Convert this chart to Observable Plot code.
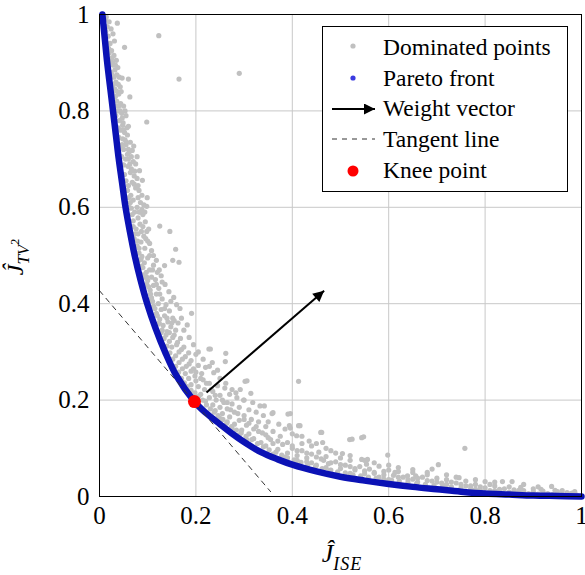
<!DOCTYPE html>
<html>
<head>
<meta charset="utf-8">
<script src="https://cdn.jsdelivr.net/npm/d3@7"></script>
<script src="https://cdn.jsdelivr.net/npm/@observablehq/plot@0.6"></script>
<style>
  html, body { margin: 0; padding: 0; background: white; overflow: hidden; }
  #wrap { position: relative; width: 585px; height: 575px; }
  #legend { position: absolute; left: 322px; top: 26px; }
</style>
</head>
<body>
<div id="wrap"></div>
<script>
// ---- data ----
const ticks = [0, 0.2, 0.4, 0.6, 0.8, 1];
const tickLabels = ["0", "0.2", "0.4", "0.6", "0.8", "1"];

const frontX = [0.006, 0.011, 0.016, 0.022, 0.028, 0.034, 0.040, 0.047, 0.054, 0.063, 0.073, 0.085, 0.099, 0.116, 0.136, 0.160, 0.197, 0.22, 0.25, 0.273, 0.30, 0.335, 0.37, 0.40, 0.45, 0.50, 0.55, 0.60, 0.65, 0.70, 0.75, 0.80, 0.85, 0.90, 0.95, 1.0];
const frontY = [1.0, 0.95, 0.9, 0.85, 0.8, 0.75, 0.7, 0.65, 0.6, 0.55, 0.5, 0.45, 0.4, 0.35, 0.3, 0.25, 0.197, 0.174, 0.150, 0.132, 0.113, 0.092, 0.077, 0.066, 0.052, 0.041, 0.033, 0.026, 0.020, 0.015, 0.010, 0.006, 0.004, 0.002, 0.001, 0.0];

const knee = [0.197, 0.197];
const tangentX = [0, 0.355];
const tangentY = [0.427, 0.01];
const weightStart = [0.222, 0.216];
const weightEnd = [0.466, 0.427];

const dominated = [
  [0.012,0.99],[0.016,0.975],[0.02,0.985],[0.024,0.97],[0.018,0.955],[0.028,0.96],[0.037,0.982],[0.031,0.945],[0.022,0.94],[0.052,0.932],[0.123,0.956],[0.014,0.995],
  [0.025,0.925],[0.03,0.915],[0.027,0.9],[0.035,0.905],[0.032,0.885],[0.038,0.89],[0.026,0.875],[0.041,0.87],[0.06,0.866],[0.047,0.868],[0.034,0.86],[0.029,0.855],[0.165,0.866],[0.29,0.878],[0.043,0.85],
  [0.032,0.845],[0.04,0.835],[0.063,0.829],[0.036,0.82],[0.044,0.815],[0.05,0.81],[0.038,0.8],[0.046,0.795],[0.055,0.79],[0.041,0.78],[0.049,0.775],[0.098,0.777],[0.06,0.768],[0.044,0.76],[0.052,0.755],[0.058,0.75],[0.035,0.81],[0.047,0.785],
  [0.048,0.742],[0.056,0.735],[0.071,0.727],[0.05,0.72],[0.062,0.715],[0.066,0.705],[0.054,0.7],[0.07,0.695],[0.075,0.69],[0.059,0.685],[0.083,0.676],[0.064,0.672],[0.072,0.665],[0.089,0.656],[0.068,0.652],[0.078,0.66],[0.047,0.73],[0.058,0.71],
  [0.06,0.645],[0.075,0.64],[0.082,0.635],[0.099,0.62],[0.065,0.625],[0.07,0.615],[0.098,0.602],[0.085,0.61],[0.078,0.6],[0.066,0.598],[0.073,0.59],[0.09,0.585],[0.08,0.578],[0.07,0.572],[0.095,0.57],[0.125,0.561],[0.084,0.565],[0.076,0.555],[0.146,0.55],[0.102,0.555],[0.064,0.61],[0.088,0.595],
  [0.08,0.545],[0.092,0.54],[0.072,0.535],[0.086,0.528],[0.1,0.53],[0.078,0.52],[0.094,0.515],[0.158,0.513],[0.108,0.51],[0.082,0.505],[0.088,0.498],[0.1,0.495],[0.135,0.479],[0.152,0.49],[0.165,0.486],[0.093,0.485],[0.112,0.48],[0.087,0.478],[0.104,0.47],[0.097,0.465],[0.12,0.465],[0.09,0.46],[0.108,0.455],[0.116,0.45],[0.1,0.448],[0.128,0.458],[0.082,0.49],
  [0.098,0.44],[0.112,0.438],[0.123,0.432],[0.105,0.428],[0.144,0.425],[0.118,0.42],[0.154,0.413],[0.108,0.412],[0.13,0.41],[0.122,0.4],[0.138,0.398],[0.112,0.395],[0.167,0.39],[0.128,0.388],[0.145,0.385],[0.191,0.38],[0.118,0.38],[0.135,0.375],[0.152,0.37],[0.125,0.368],[0.142,0.362],[0.163,0.36],[0.182,0.356],[0.132,0.355],[0.148,0.352],[0.122,0.358],[0.158,0.345],[0.105,0.405],[0.14,0.342],
  [0.13,0.345],[0.138,0.335],[0.152,0.33],[0.168,0.328],[0.145,0.322],[0.16,0.315],[0.175,0.31],[0.227,0.306],[0.23,0.306],[0.15,0.31],[0.165,0.3],[0.185,0.298],[0.262,0.297],[0.2,0.295],[0.158,0.292],[0.172,0.285],[0.19,0.282],[0.234,0.278],[0.165,0.278],[0.18,0.27],[0.205,0.272],[0.22,0.268],[0.172,0.265],[0.19,0.26],[0.237,0.257],[0.212,0.255],[0.178,0.255],[0.198,0.25],[0.261,0.28],[0.145,0.34],
  [0.185,0.245],[0.2,0.24],[0.215,0.242],[0.306,0.24],[0.413,0.239],[0.302,0.239],[0.228,0.235],[0.19,0.232],[0.205,0.228],[0.245,0.23],[0.26,0.225],[0.218,0.222],[0.235,0.218],[0.314,0.214],[0.21,0.212],[0.25,0.21],[0.27,0.212],[0.228,0.205],[0.242,0.2],[0.299,0.2],[0.285,0.205],[0.22,0.198],[0.258,0.195],[0.275,0.192],[0.342,0.188],[0.333,0.188],[0.235,0.19],[0.25,0.185],[0.265,0.182],[0.29,0.185],[0.31,0.18],
  [0.24,0.178],[0.255,0.172],[0.28,0.175],[0.36,0.174],[0.358,0.172],[0.391,0.171],[0.396,0.172],[0.3,0.168],[0.27,0.165],[0.25,0.162],[0.29,0.158],[0.315,0.16],[0.33,0.155],[0.265,0.155],[0.28,0.15],[0.305,0.148],[0.416,0.147],[0.394,0.147],[0.413,0.147],[0.396,0.142],[0.345,0.145],[0.32,0.14],[0.295,0.138],[0.275,0.142],[0.36,0.135],[0.338,0.132],[0.461,0.133],[0.459,0.133],[0.31,0.13],[0.29,0.128],[0.409,0.126],[0.375,0.125],[0.35,0.122],[0.548,0.124],[0.524,0.119],[0.519,0.118],[0.544,0.122],[0.32,0.12],
  [0.305,0.118],[0.335,0.112],[0.463,0.112],[0.36,0.11],[0.38,0.108],[0.42,0.11],[0.44,0.105],[0.345,0.105],[0.4,0.1],[0.37,0.098],[0.758,0.1],[0.48,0.095],[0.42,0.095],[0.455,0.092],[0.39,0.09],[0.504,0.089],[0.44,0.088],[0.598,0.086],[0.41,0.085],[0.47,0.083],[0.36,0.088],[0.5,0.08],[0.43,0.08],[0.385,0.082],
  [0.46,0.078],[0.544,0.077],[0.556,0.077],[0.52,0.075],[0.49,0.072],[0.41,0.075],[0.44,0.07],[0.475,0.068],[0.554,0.067],[0.703,0.066],[0.51,0.065],[0.54,0.062],[0.58,0.063],[0.47,0.06],[0.5,0.058],[0.69,0.057],[0.56,0.057],[0.6,0.055],[0.53,0.055],[0.62,0.052],[0.48,0.055],[0.57,0.05],[0.613,0.05],[0.65,0.05],[0.45,0.065],[0.43,0.072],
  [0.55,0.047],[0.59,0.045],[0.639,0.043],[0.656,0.043],[0.68,0.045],[0.52,0.048],[0.62,0.04],[0.66,0.038],[0.746,0.039],[0.7,0.038],[0.58,0.04],[0.72,0.035],[0.68,0.033],[0.64,0.035],[0.76,0.032],[0.8,0.031],[0.836,0.031],[0.856,0.031],[0.74,0.028],[0.7,0.03],[0.78,0.025],[0.82,0.022],[0.72,0.025],[0.76,0.022],[0.85,0.02],[0.874,0.019],[0.8,0.018],[0.938,0.021],[0.6,0.035],[0.66,0.03],
  [0.83,0.015],[0.87,0.013],[0.916,0.015],[0.9,0.01],[0.95,0.01],[0.986,0.01],[0.97,0.008],[0.88,0.008],[0.93,0.006],[0.82,0.012],[0.86,0.009],[0.96,0.004],[0.99,0.003],[0.91,0.005],[0.78,0.015],
  // points hugging the front
  [0.013,0.965],[0.019,0.93],[0.023,0.905],[0.024,0.88],[0.03,0.87],[0.028,0.84],[0.033,0.83],[0.034,0.79],[0.039,0.765],[0.04,0.745],[0.043,0.725],[0.046,0.705],[0.05,0.688],[0.052,0.668],[0.055,0.655],[0.058,0.635],[0.061,0.62],[0.062,0.6],[0.068,0.585],[0.07,0.56],[0.074,0.545],[0.079,0.53],[0.082,0.515],[0.086,0.492],[0.09,0.475],[0.094,0.455],[0.098,0.455],[0.102,0.435],[0.106,0.42],[0.11,0.405],[0.115,0.39],[0.12,0.375],[0.124,0.36],[0.128,0.34],[0.134,0.328],[0.14,0.312],[0.146,0.298],[0.152,0.285],[0.158,0.27],[0.164,0.258],[0.17,0.245],[0.176,0.236],[0.182,0.228],[0.19,0.22],[0.198,0.215],[0.206,0.208],[0.214,0.2],[0.222,0.19],[0.23,0.182],[0.238,0.175],[0.246,0.168],[0.256,0.16],[0.264,0.152],[0.274,0.145],[0.284,0.138],[0.294,0.132],[0.304,0.125],[0.316,0.118],[0.328,0.11],[0.34,0.103],[0.352,0.097],[0.366,0.092],[0.378,0.086],[0.39,0.08],[0.404,0.076],[0.418,0.071],[0.432,0.066],[0.448,0.062],[0.462,0.058],[0.478,0.054],[0.494,0.051],[0.51,0.049],[0.526,0.045],[0.542,0.043],[0.558,0.04],[0.574,0.038],[0.59,0.036],[0.606,0.034],[0.622,0.032],[0.64,0.029],[0.658,0.027],[0.676,0.025],[0.694,0.023],[0.712,0.021],[0.73,0.02],[0.75,0.018],[0.77,0.016],[0.79,0.014],[0.81,0.012],[0.83,0.01],[0.85,0.009],[0.87,0.008],[0.89,0.006],[0.92,0.007],[0.94,0.004],[0.975,0.005],
  [0.02,0.92],[0.028,0.895],[0.036,0.875],[0.037,0.84],[0.043,0.8],[0.05,0.76],[0.055,0.73],[0.06,0.7],[0.066,0.68],[0.072,0.648],[0.08,0.62],[0.085,0.59],[0.09,0.56],[0.096,0.535],[0.104,0.5],[0.11,0.47],[0.118,0.44],[0.125,0.42],[0.135,0.39],[0.14,0.37],[0.15,0.36],[0.155,0.335],[0.162,0.32],[0.17,0.305],[0.178,0.29],[0.186,0.275],[0.195,0.265],[0.2,0.258],[0.21,0.245],[0.222,0.235],[0.232,0.222],[0.24,0.21],[0.255,0.2],[0.265,0.195],[0.272,0.18],[0.287,0.172],[0.3,0.16],[0.31,0.152],[0.325,0.145],[0.33,0.135],[0.345,0.128],[0.355,0.118],[0.37,0.115],[0.39,0.112],[0.4,0.105],[0.41,0.095],[0.43,0.09],[0.45,0.082],[0.465,0.075],[0.48,0.07],[0.5,0.066],[0.52,0.062],[0.53,0.058],[0.55,0.053],[0.57,0.048],[0.59,0.052],[0.61,0.044],[0.63,0.04],[0.65,0.036],[0.67,0.04],[0.69,0.032],[0.71,0.028],[0.73,0.03],[0.75,0.025],[0.77,0.022],[0.79,0.02],[0.81,0.025],[0.84,0.016],[0.86,0.014],[0.88,0.012],[0.9,0.016],[0.92,0.011],[0.945,0.013],[0.96,0.012],[0.98,0.007],
  // denser middle of the band
  [0.026,0.91],[0.033,0.895],[0.039,0.855],[0.045,0.84],[0.04,0.81],[0.053,0.8],[0.048,0.77],[0.057,0.765],[0.053,0.74],[0.064,0.735],[0.06,0.72],[0.068,0.718],[0.063,0.69],[0.078,0.705],[0.073,0.675],[0.08,0.645],[0.088,0.625],[0.092,0.605],[0.082,0.59],[0.094,0.59],[0.087,0.55],[0.098,0.55],[0.104,0.525],[0.112,0.5],[0.118,0.49],[0.124,0.47],[0.13,0.445],[0.136,0.44],[0.148,0.405],[0.16,0.398],[0.17,0.37],[0.155,0.365],[0.175,0.345],[0.186,0.33],[0.195,0.315],[0.205,0.3],[0.215,0.285],[0.228,0.27],[0.245,0.262],[0.25,0.245],[0.262,0.235],[0.275,0.222],[0.283,0.215],[0.292,0.222],[0.3,0.2],[0.318,0.195],[0.325,0.175],[0.34,0.168],[0.35,0.155],[0.372,0.15],[0.385,0.14],[0.4,0.13],[0.42,0.125],[0.435,0.115],[0.45,0.11],[0.47,0.1],[0.49,0.09],[0.52,0.085],[0.55,0.075],[0.57,0.07],[0.6,0.065],[0.62,0.06],[0.65,0.056],[0.68,0.05],[0.72,0.045],[0.74,0.04],[0.78,0.035],[0.82,0.03],[0.88,0.025],[0.91,0.02]
];

const legendItems = ["Dominated points", "Pareto front", "Weight vector", "Tangent line", "Knee point"];

// ---- derived tables ----
const front = frontX.map((x, i) => ({x, y: frontY[i]}));
const tangent = tangentX.map((x, i) => ({x, y: tangentY[i]}));
const weight = [{x1: weightStart[0], y1: weightStart[1], x2: weightEnd[0], y2: weightEnd[1]}];
const fmt = d => tickLabels[ticks.indexOf(d)];
const serif = "'Liberation Serif', 'Times New Roman', serif";

const plot = Plot.plot({
  width: 585, height: 575,
  marginLeft: 99, marginRight: 4, marginTop: 14, marginBottom: 79,
  style: {fontFamily: serif, fontSize: "25px", color: "black", background: "white", overflow: "visible"},
  x: {domain: [0, 1], ticks, tickFormat: fmt, tickSize: 0, tickPadding: 10, label: null},
  y: {domain: [0, 1], ticks, tickFormat: fmt, tickSize: 0, tickPadding: 10, label: null},
  marks: [
    Plot.gridX(ticks, {stroke: "#c8c8c8", strokeOpacity: 1, strokeWidth: 1}),
    Plot.gridY(ticks, {stroke: "#c8c8c8", strokeOpacity: 1, strokeWidth: 1}),
    Plot.dot(dominated, {x: d => d[0], y: d => d[1], r: 2.6, fill: "#c0c0c0", stroke: null}),
    Plot.line(front, {x: "x", y: "y", stroke: "#0b12b5", strokeWidth: 6.5, curve: "catmull-rom", strokeLinecap: "round"}),
    Plot.line(tangent, {x: "x", y: "y", stroke: "#333", strokeWidth: 1, strokeDasharray: "5,5"}),
    Plot.link(weight, {x1: "x1", y1: "y1", x2: "x2", y2: "y2", stroke: "black", strokeWidth: 2}),
    Plot.dot([knee], {x: d => d[0], y: d => d[1], r: 6.5, fill: "#ff0000", stroke: null}),
    Plot.frame({stroke: "black", strokeWidth: 1})
  ]
});

const svg = d3.select(plot);
// arrowhead marker
const defs = svg.append("defs");
defs.append("marker")
  .attr("id", "wv-head").attr("viewBox", "0 0 10 10")
  .attr("refX", 10).attr("refY", 5)
  .attr("markerUnits", "userSpaceOnUse")
  .attr("markerWidth", 14).attr("markerHeight", 11)
  .attr("orient", "auto")
  .append("path").attr("d", "M0,0L10,5L0,10z").attr("fill", "black");
svg.selectAll('g[aria-label="link"] path').attr("marker-end", "url(#wv-head)");

// axis titles
const xl = svg.append("text").attr("x", 342).attr("y", 562).attr("text-anchor", "middle")
  .attr("font-family", serif).attr("font-style", "italic").attr("font-size", 26);
xl.append("tspan").text("Ĵ");
xl.append("tspan").attr("font-size", 18).attr("dy", 8).attr("letter-spacing", 1).text("ISE");

const yl = svg.append("text").attr("transform", "translate(23,257) rotate(-90)").attr("text-anchor", "middle")
  .attr("font-family", serif).attr("font-style", "italic").attr("font-size", 24);
yl.append("tspan").text("Ĵ");
yl.append("tspan").attr("font-size", 17).attr("dy", 6).text("TV");
yl.append("tspan").attr("font-size", 12).attr("font-style", "normal").attr("dy", -10).text("2");

document.getElementById("wrap").appendChild(plot);

// legend
const W = 246, H = 166;
const lg = d3.select("#wrap").append("svg").attr("id", "legend").attr("width", W).attr("height", H);
lg.append("rect").attr("x", 0.5).attr("y", 0.5).attr("width", W - 1).attr("height", H - 1).attr("fill", "white").attr("stroke", "black");
const base = [28.5, 59.5, 90, 121, 151.5];
const mid = [20, 52, 83, 113, 145];
legendItems.forEach((t, i) => {
  lg.append("text").attr("x", 61).attr("y", base[i]).attr("font-family", serif).attr("font-size", 23.5).attr("fill", "black").text(t);
});
lg.append("circle").attr("cx", 31).attr("cy", mid[0]).attr("r", 2.6).attr("fill", "#c0c0c0");
lg.append("circle").attr("cx", 31).attr("cy", mid[1]).attr("r", 2.6).attr("fill", "#3a3ae0");
lg.append("line").attr("x1", 10).attr("y1", mid[2]).attr("x2", 53).attr("y2", mid[2]).attr("stroke", "black").attr("stroke-width", 2).attr("marker-end", "url(#wv-head)");
lg.append("line").attr("x1", 10).attr("y1", mid[3]).attr("x2", 53).attr("y2", mid[3]).attr("stroke", "#333").attr("stroke-width", 1).attr("stroke-dasharray", "5,5");
lg.append("circle").attr("cx", 31).attr("cy", mid[4]).attr("r", 5.5).attr("fill", "#ff0000");
</script>
</body>
</html>
